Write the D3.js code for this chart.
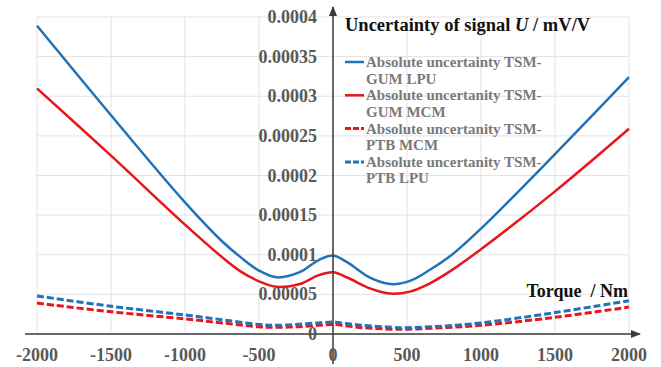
<!DOCTYPE html>
<html>
<head>
<meta charset="utf-8">
<script src="https://cdn.jsdelivr.net/npm/d3@7"></script>
<style>
  body { margin: 0; background: #fff; }
  text { font-family: "Liberation Serif", "Times New Roman", serif; font-weight: bold; }
</style>
</head>
<body>
<div id="wrapper"></div>
<script>
// values in 1e-4 mV/V
const torqueGum = [-2000, -1500, -1000, -750, -625, -500, -380, -225, -100, 0, 100, 250, 385, 520, 655, 790, 1000, 1500, 2000];
const gumLpu = [3.89, 2.76, 1.66, 1.17, 0.97, 0.80, 0.715, 0.78, 0.93, 0.99, 0.90, 0.71, 0.63, 0.67, 0.81, 0.98, 1.33, 2.27, 3.24];
const gumMcm = [3.10, 2.25, 1.38, 0.97, 0.79, 0.665, 0.595, 0.63, 0.74, 0.78, 0.71, 0.575, 0.51, 0.535, 0.64, 0.79, 1.07, 1.80, 2.59];

const torquePtb = [-2000, -1500, -1000, -750, -500, -400, -250, -100, 0, 100, 200, 400, 500, 750, 1000, 1500, 2000];
const ptbMcm = [0.39, 0.28, 0.19, 0.14, 0.09, 0.085, 0.09, 0.11, 0.12, 0.10, 0.08, 0.06, 0.06, 0.08, 0.11, 0.21, 0.34];
const ptbLpu = [0.48, 0.35, 0.24, 0.18, 0.12, 0.11, 0.12, 0.14, 0.15, 0.13, 0.11, 0.085, 0.08, 0.10, 0.14, 0.27, 0.42];

const xTicks = [-2000, -1500, -1000, -500, 0, 500, 1000, 1500, 2000];
const yTicks = [0, 0.00005, 0.0001, 0.00015, 0.0002, 0.00025, 0.0003, 0.00035, 0.0004];
const yTickLabels = ["0", "0.00005", "0.0001", "0.00015", "0.0002", "0.00025", "0.0003", "0.00035", "0.0004"];

const series = [
  { name: ["Absolute uncertainty TSM-", "GUM LPU"], x: torqueGum, values: gumLpu, color: "#2173b8", dash: null },
  { name: ["Absolute uncertanity TSM-", "GUM MCM"], x: torqueGum, values: gumMcm, color: "#e8151b", dash: null },
  { name: ["Absolute uncertanity TSM-", "PTB MCM"], x: torquePtb, values: ptbMcm, color: "#e8151b", dash: "7,3" },
  { name: ["Absolute uncertanity TSM-", "PTB LPU"], x: torquePtb, values: ptbLpu, color: "#2173b8", dash: "7,3" },
];

const width = 661;
const height = 367;

const svg = d3.select("#wrapper")
  .append("svg")
  .attr("width", width)
  .attr("height", height);

const xScale = d3.scaleLinear().domain([-2000, 2000]).range([37, 629]);
const yScale = d3.scaleLinear().domain([0, 0.0004]).range([334, 17]);

// grid
svg.append("g")
  .selectAll("line")
  .data(xTicks)
  .join("line")
  .attr("x1", d => xScale(d)).attr("x2", d => xScale(d))
  .attr("y1", yScale(0.0004)).attr("y2", yScale(0))
  .attr("stroke", "#e3e3e3").attr("stroke-width", 1);

svg.append("g")
  .selectAll("line")
  .data(yTicks)
  .join("line")
  .attr("x1", xScale(-2000)).attr("x2", xScale(2000))
  .attr("y1", d => yScale(d)).attr("y2", d => yScale(d))
  .attr("stroke", "#e3e3e3").attr("stroke-width", 1);

// series
series.forEach(s => {
  const line = d3.line()
    .x((d, i) => xScale(s.x[i]))
    .y(d => yScale(d * 1e-4))
    .curve(d3.curveCatmullRom.alpha(0.5));

  svg.append("path")
    .datum(s.values)
    .attr("d", line)
    .attr("fill", "none")
    .attr("stroke", s.color)
    .attr("stroke-width", s.dash ? 3 : 2.5)
    .attr("stroke-dasharray", s.dash);
});

// axes with arrows
const axisColor = "#3a3a3a";
svg.append("defs").append("marker")
  .attr("id", "arrow")
  .attr("viewBox", "0 0 10 10")
  .attr("refX", 9).attr("refY", 5)
  .attr("markerWidth", 7).attr("markerHeight", 7)
  .attr("orient", "auto")
  .append("path")
  .attr("d", "M0,1 L10,5 L0,9 Z")
  .attr("fill", axisColor);

svg.append("line")
  .attr("x1", 25).attr("x2", 640)
  .attr("y1", yScale(0)).attr("y2", yScale(0))
  .attr("stroke", axisColor).attr("stroke-width", 1.5)
  .attr("marker-end", "url(#arrow)");

svg.append("line")
  .attr("x1", xScale(0)).attr("x2", xScale(0))
  .attr("y1", 364).attr("y2", 7)
  .attr("stroke", axisColor).attr("stroke-width", 1.5)
  .attr("marker-end", "url(#arrow)");

// tick labels
svg.append("g")
  .selectAll("text")
  .data(yTicks)
  .join("text")
  .attr("x", 317)
  .attr("y", d => yScale(d) + 6)
  .attr("text-anchor", "end")
  .attr("fill", "#595959")
  .style("font-size", "18px")
  .text((d, i) => yTickLabels[i]);

svg.append("g")
  .selectAll("text")
  .data(xTicks)
  .join("text")
  .attr("x", d => xScale(d))
  .attr("y", 361)
  .attr("text-anchor", "middle")
  .attr("fill", "#595959")
  .style("font-size", "18px")
  .text(d => d);

// titles
const title = svg.append("text")
  .attr("x", 345).attr("y", 31)
  .attr("fill", "#111")
  .style("font-size", "18.5px");
title.append("tspan").text("Uncertainty of signal ");
title.append("tspan").style("font-style", "italic").text("U");
title.append("tspan").text(" / mV/V");

svg.append("text")
  .attr("x", 628).attr("y", 297)
  .attr("text-anchor", "end")
  .attr("fill", "#111")
  .attr("xml:space", "preserve")
  .style("white-space", "pre")
  .style("font-size", "18px")
  .text("Torque  / Nm");

// legend
const legend = svg.append("g");
series.forEach((s, i) => {
  const y0 = 62 + i * 33.3;
  legend.append("line")
    .attr("x1", 345).attr("x2", 364)
    .attr("y1", y0).attr("y2", y0)
    .attr("stroke", s.color)
    .attr("stroke-width", s.dash ? 3 : 2.5)
    .attr("stroke-dasharray", s.dash ? "6,2" : null);
  s.name.forEach((t, j) => {
    legend.append("text")
      .attr("x", 366)
      .attr("y", y0 + 5 + j * 16.5)
      .attr("fill", "#7a7a7a")
      .style("font-size", "15px")
      .text(t);
  });
});
</script>
</body>
</html>
